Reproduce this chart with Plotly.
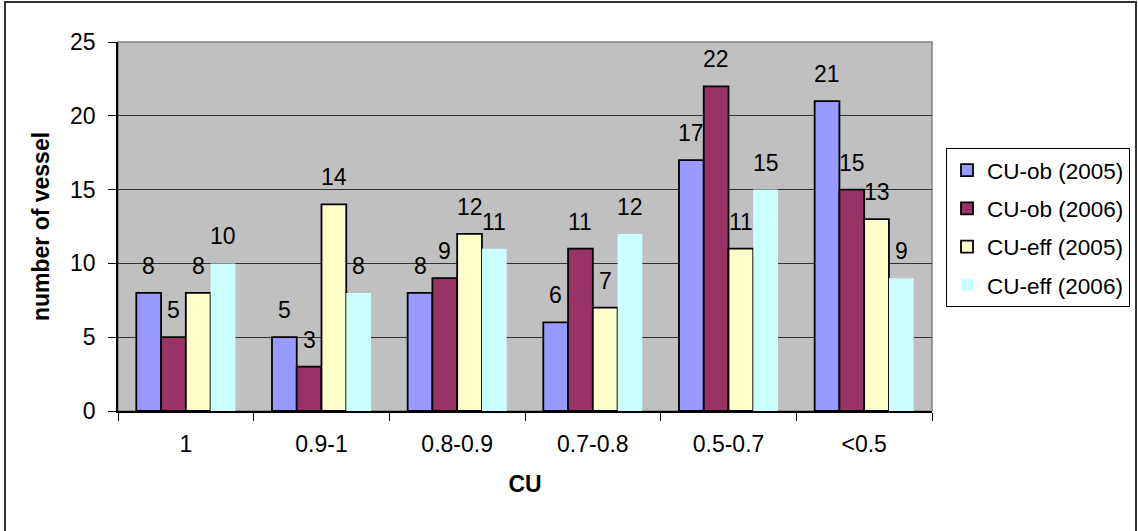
import plotly.graph_objects as go

# Capacity-utilisation classes and vessel counts per indicator/year
categories = ["1", "0.9-1", "0.8-0.9", "0.7-0.8", "0.5-0.7", "<0.5"]
cu_ob_2005 = [8, 5, 8, 6, 17, 21]
cu_ob_2006 = [5, 3, 9, 11, 22, 15]
cu_eff_2005 = [8, 14, 12, 7, 11, 13]
cu_eff_2006 = [10, 8, 11, 12, 15, 9]
series_names = ["CU-ob (2005)", "CU-ob (2006)", "CU-eff (2005)", "CU-eff (2006)"]
y_ticks = [0, 5, 10, 15, 20, 25]

series_values = [cu_ob_2005, cu_ob_2006, cu_eff_2005, cu_eff_2006]
fills = ["#9999FF", "#993366", "#FFFFCC", "#CCFFFF"]
edges = [1.8, 1.8, 1.8, 0]

FONT = "Liberation Sans, Arial, sans-serif"
FS = 23
W, H = 1138, 531
ML, MR, MT, MB = 118, 206, 42, 120
BARGAP = 0.27
plot_w = W - ML - MR
plot_h = H - MT - MB

fig = go.Figure()
for i, (name, vals) in enumerate(zip(series_names, series_values)):
    fig.add_trace(go.Bar(
        x=categories, y=vals, name=name, legendgroup=name,
        marker=dict(color=fills[i], line=dict(color="black", width=edges[i])),
    ))

# value labels above each bar (x given as category index)
bar_px = plot_w / len(categories) * (1 - BARGAP) / len(series_names)
annotations = []
for i, vals in enumerate(series_values):
    offset = (i - (len(series_names) - 1) / 2) * bar_px
    for k, v in enumerate(vals):
        annotations.append(dict(
            x=k, y=v, text=str(v), showarrow=False, xshift=offset,
            yanchor="bottom", yshift=12, font=dict(family=FONT, size=FS, color="black"),
        ))

shapes = [
    # plot-area frame (top/right edges in gray)
    dict(type="rect", xref="x domain", yref="y domain", x0=0, x1=1, y0=0, y1=1,
         line=dict(color="#808080", width=1.5), layer="below"),
    # outer chart border
    dict(type="rect", xref="paper", yref="paper",
         x0=(5 - ML) / plot_w, x1=(1136 - ML) / plot_w,
         y0=(MT + plot_h - 534) / plot_h, y1=(MT + plot_h - 2) / plot_h,
         line=dict(color="#333333", width=2)),
]

fig.update_layout(
    width=W, height=H,
    margin=dict(l=ML, r=MR, t=MT, b=MB, pad=0),
    paper_bgcolor="white", plot_bgcolor="#C0C0C0",
    barmode="group", bargap=BARGAP, bargroupgap=0,
    font=dict(family=FONT, size=FS, color="black"),
    showlegend=True,
    legend=dict(
        xref="container", yref="container", x=946 / W, y=1 - 148 / H,
        xanchor="left", yanchor="top",
        bordercolor="black", borderwidth=1, bgcolor="white",
        font=dict(family=FONT, size=22.5), tracegroupgap=6, itemwidth=30,
    ),
    annotations=annotations,
    shapes=shapes,
)
fig.update_xaxes(
    type="category", showline=True, linecolor="black", linewidth=1.5,
    ticks="outside", ticklen=8, tickcolor="black", tickson="boundaries",
    showgrid=False, ticklabelstandoff=12,
    title=dict(text="<b>CU</b>", font=dict(family=FONT, size=FS), standoff=20),
)
fig.update_yaxes(
    range=[0, 25], tickvals=y_ticks, showline=True, linecolor="black", linewidth=1.5,
    ticks="outside", ticklen=8, tickcolor="black",
    showgrid=True, gridcolor="#303030", gridwidth=1, zeroline=False,
    ticklabelstandoff=8,
    title=dict(text="<b>number of vessel</b>", font=dict(family=FONT, size=FS), standoff=14),
)

fig.write_html("out.html")
